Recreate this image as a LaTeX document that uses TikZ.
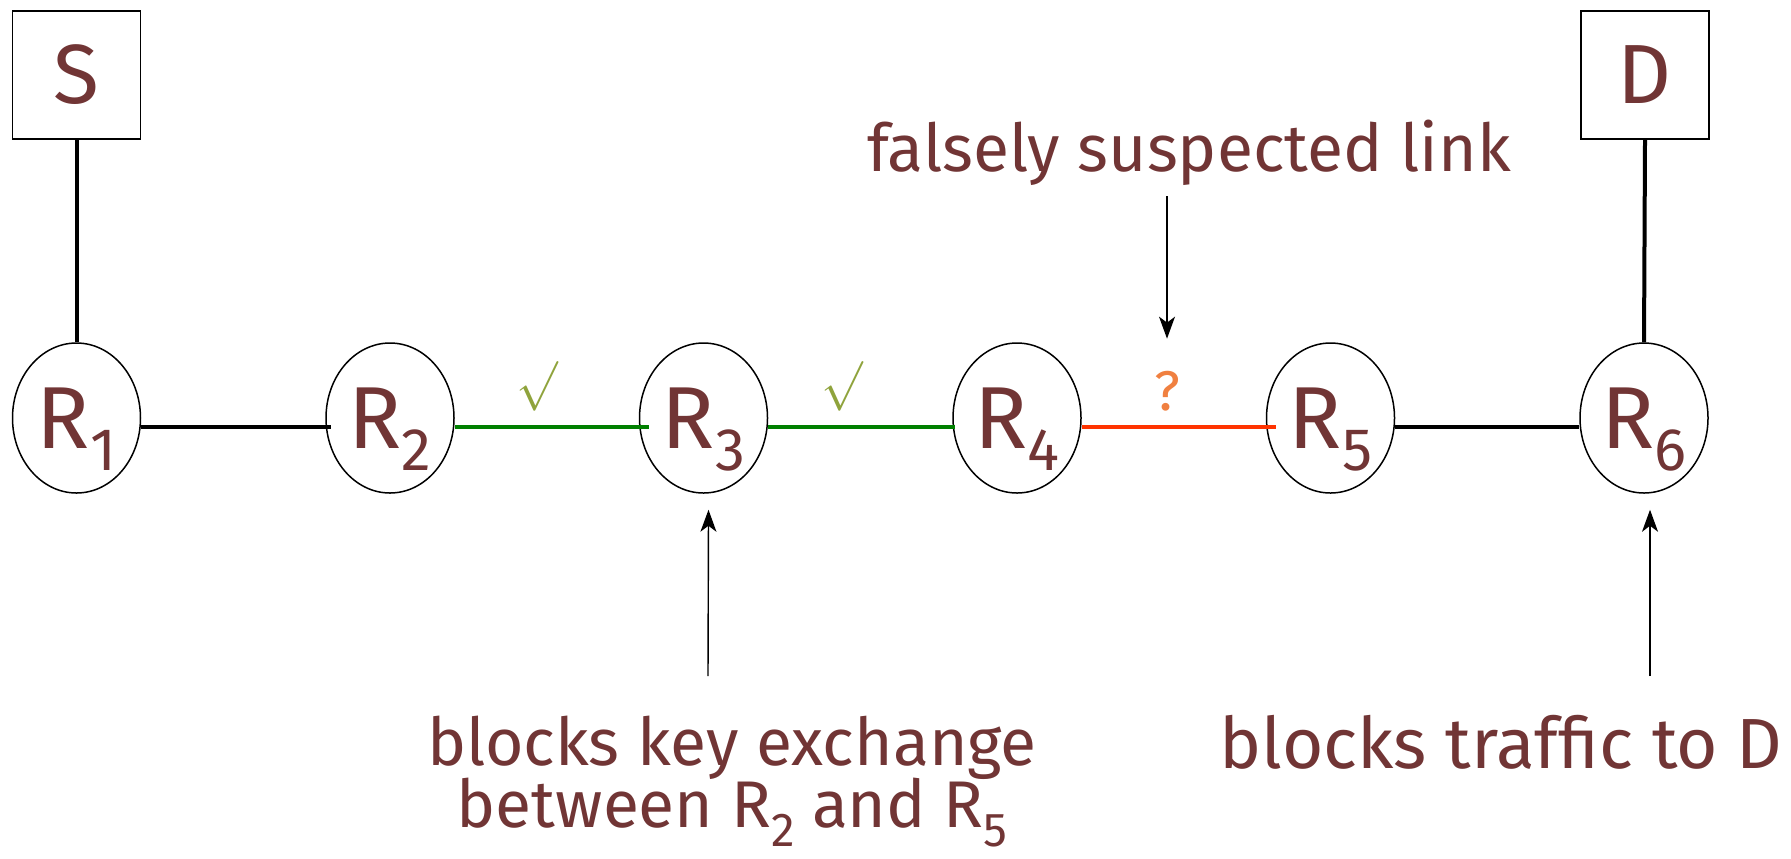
\documentclass[tikz,border=0pt]{standalone}
\usepackage{fontspec}
\usepackage{graphicx}
\setmainfont{Fira Sans}
\usetikzlibrary{arrows.meta,shapes.geometric}
\definecolor{txt}{HTML}{713535}
\definecolor{okgreen}{HTML}{008000}
\definecolor{chk}{HTML}{8FA33C}
\definecolor{bad}{HTML}{FF3300}
\definecolor{qm}{HTML}{F08040}
\newcommand\rlab[1]{{\fontsize{44}{44}\selectfont R}\raisebox{-11pt}{\fontsize{30}{30}\selectfont #1}}
\newcommand\rsub[1]{R\raisebox{-0.28em}{\scalebox{0.72}{#1}}}
\newcommand\tightls{\lineskiplimit=-50pt\relax\lineskip=0pt\relax}
\begin{document}
\begin{tikzpicture}[x=0.5pt,y=-0.5pt,
  router/.style={ellipse, draw, line width=0.75pt, minimum width=64pt, minimum height=75pt, inner sep=0pt, text=txt, text depth=0pt},
  endbox/.style={rectangle, draw, line width=0.75pt, minimum width=64pt, minimum height=64pt, inner sep=0pt, text=txt, font=\fontsize{42}{42}\selectfont},
  link/.style={line width=2pt},
  note/.style={-{Stealth[length=11pt,width=8pt,inset=3pt]}, line width=0.7pt},
  lbl/.style={text=txt, font=\fontsize{33}{31}\selectfont\tightls, inner sep=0pt}
]
\useasboundingbox (0,0) rectangle (1791,858);

\node[endbox] (S) at (76.5,75) {S};
\node[endbox] (D) at (1645,75) {D};

\node[router] (R1) at (76.5,418) {\rlab{1}};
\node[router] (R2) at (390,418) {\rlab{2}};
\node[router] (R3) at (703.5,418) {\rlab{3}};
\node[router] (R4) at (1017,418) {\rlab{4}};
\node[router] (R5) at (1330.5,418) {\rlab{5}};
\node[router] (R6) at (1644,418) {\rlab{6}};

\draw[link] (S.south) -- (R1.north);
\draw[link] (D.south) -- (R6.north);
\draw[link] ([yshift=-4.5pt]R1.east) -- ([xshift=3pt,yshift=-4.5pt]R2.west);
\draw[link,okgreen] ([yshift=-4.5pt]R2.east) -- ([xshift=5pt,yshift=-4.5pt]R3.west);
\draw[link,okgreen] ([yshift=-4.5pt]R3.east) -- ([xshift=1.5pt,yshift=-4.5pt]R4.west);
\draw[link,bad] ([yshift=-4.5pt]R4.east) -- ([xshift=5pt,yshift=-4.5pt]R5.west);
\draw[link] ([yshift=-4.5pt]R5.east) -- ([yshift=-4.5pt]R6.west);

\node[text=chk, font=\fontsize{30}{30}\selectfont, inner sep=0pt] (c1) at (537,386) {$\surd$};
\node[text=chk, font=\fontsize{30}{30}\selectfont, inner sep=0pt] (c2) at (842,386) {$\surd$};
\node[text=qm, font=\fontsize{28}{28}\selectfont, inner sep=0pt] (q) at (1167,391) {?};

\node[lbl, anchor=base] (ftop) at (1189,171) {falsely suspected link};
\coordinate (fa) at (1167,196);
\draw[note] (fa) -- ([yshift=16pt]q.north);

\node[lbl, anchor=north, align=center] (kx) at (732,716) {blocks key exchange\\ between \rsub{2} and \rsub{5}};
\node[lbl, anchor=base, font=\fontsize{35.5}{30}\selectfont] (tr) at (1501,768) {blocks traffic to D};
\coordinate (ka) at (708,676);
\coordinate (ta) at (1650,676);
\draw[note] (ka) -- ([xshift=2.5pt,yshift=-8pt]R3.south);
\draw[note] (ta) -- ([xshift=3pt,yshift=-8pt]R6.south);
\end{tikzpicture}
\end{document}
